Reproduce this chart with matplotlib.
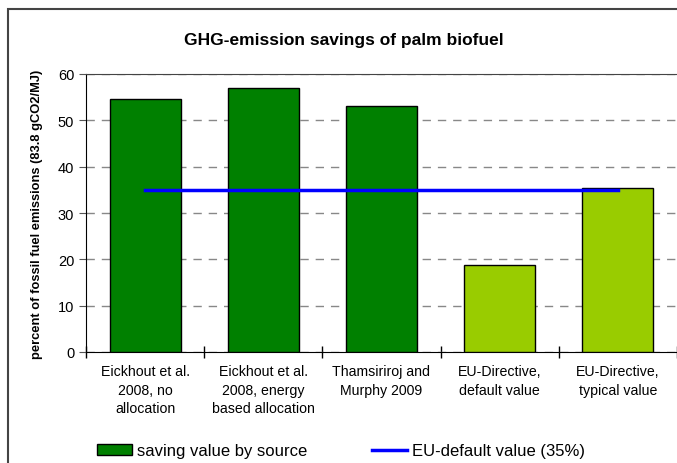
import matplotlib.pyplot as plt
from matplotlib.patches import Rectangle
from matplotlib.lines import Line2D

plt.rcParams['font.family'] = ['Liberation Sans', 'DejaVu Sans']

# data
categories = ['Eickhout et al.\n2008, no\nallocation',
              'Eickhout et al.\n2008, energy\nbased allocation',
              'Thamsiriroj and\nMurphy 2009',
              'EU-Directive,\ndefault value',
              'EU-Directive,\ntypical value']
savings = [54.6, 57.0, 53.1, 18.8, 35.5]
bar_colors = ['#008000', '#008000', '#008000', '#99cc00', '#99cc00']
eu_default = 35

fig = plt.figure(figsize=(6.77, 4.64), dpi=100)
ax = fig.add_axes([86/677, 1 - 353/464, 591/677, (353 - 75)/464])

x = list(range(len(categories)))
ax.bar(x, savings, width=0.6, color=bar_colors, edgecolor='black', linewidth=1, zorder=3)
ax.plot([x[0], x[-1]], [eu_default] * 2, color='#0000ff', linewidth=2.5, zorder=4)

ax.set_xlim(-0.5, len(categories) - 0.5)
ax.set_ylim(0, 60)
ax.set_yticks(range(0, 61, 10))
ax.set_xticks(x)
ax.set_xticklabels(categories, fontsize=10.2, linespacing=1.38)
ax.set_xticks([i - 0.5 for i in range(len(categories) + 1)], minor=True)
ax.tick_params(axis='x', which='major', length=0, pad=9)
ax.tick_params(axis='x', which='minor', length=8, direction='inout', width=1)
ax.tick_params(axis='y', labelsize=10.5, length=5, width=0.8, color='#555555')
ax.yaxis.grid(True, linestyle=(0, (6, 5)), color='#888888', linewidth=1, zorder=0)

ax.spines['right'].set_visible(False)
ax.spines['top'].set_color('#444444')
ax.spines['left'].set_color('black')
ax.spines['bottom'].set_color('black')

ax.set_ylabel('percent of fossil fuel emissions (83.8 gCO2/MJ)', fontsize=9.3,
              fontweight='bold', labelpad=11)
fig.text(344/677, 1 - 40/464, 'GHG-emission savings of palm biofuel', ha='center', va='center',
         fontsize=12.5, fontweight='bold')

# outer border
fig.patches.append(Rectangle((8/677, -0.1), 1.0, 1.1 - 10/464, transform=fig.transFigure,
                             fill=False, edgecolor='#444444', linewidth=1.5))

handles = [Rectangle((0, 0), 1, 1, facecolor='#008000', edgecolor='black', linewidth=1),
           Line2D([], [], color='#0000ff', linewidth=2.5)]
fig.legend(handles, ['saving value by source', 'EU-default value (35%)'], loc='center left',
           bbox_to_anchor=(97/677, 1 - 452/464), ncol=2, frameon=False, fontsize=12,
           handlelength=2.1, handleheight=0.6, handletextpad=0.3, columnspacing=3.9,
           borderaxespad=0, borderpad=0)

fig.savefig('out.png', dpi=100)
